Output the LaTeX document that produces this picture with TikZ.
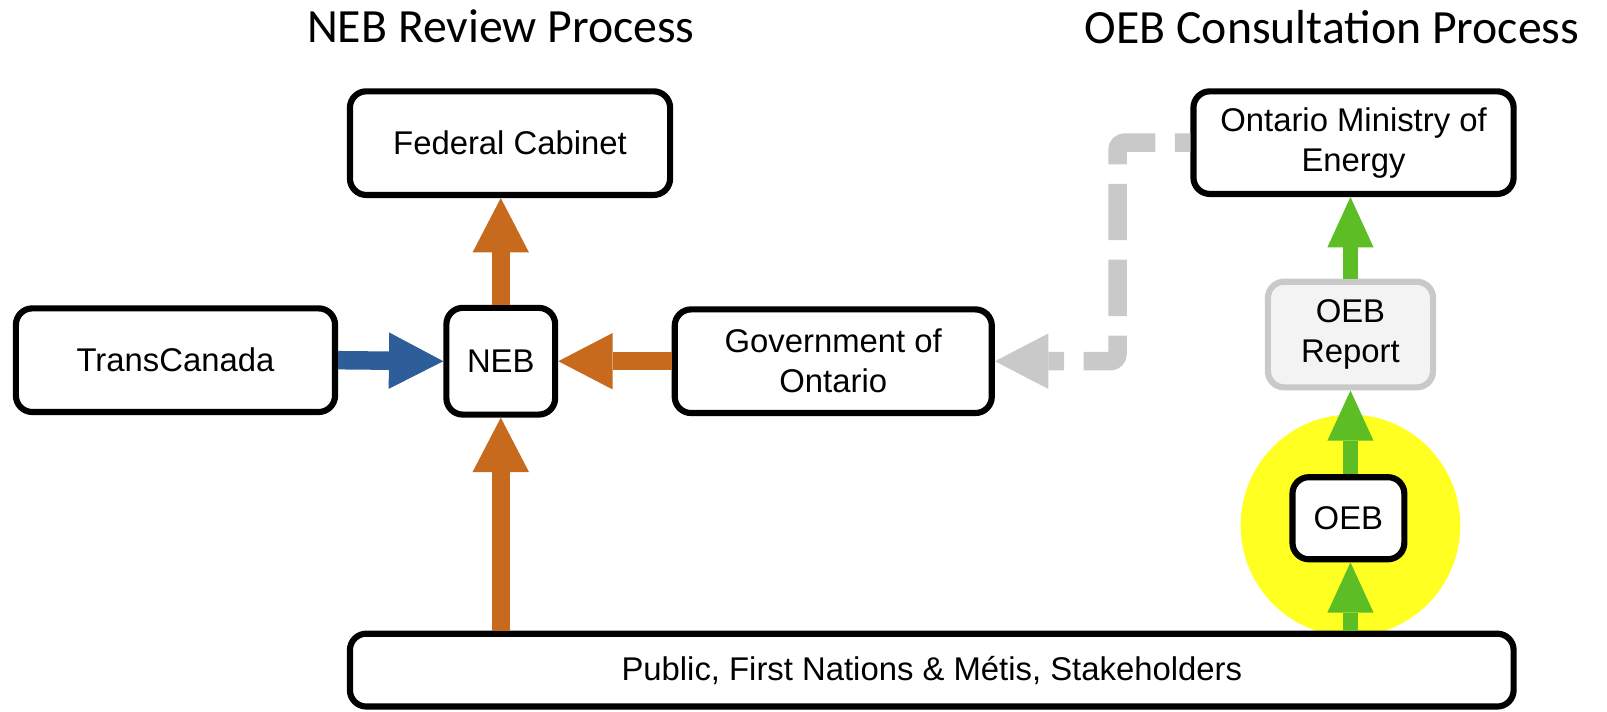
\documentclass[tikz,border=0pt]{standalone}
\usepackage{fontspec}
\setmainfont{Liberation Sans}
\newfontfamily\titlefont{Carlito}
\usetikzlibrary{arrows.meta}
\definecolor{orng}{HTML}{C86A1E}
\definecolor{blu}{HTML}{2E5E99}
\definecolor{grn}{HTML}{5CBE24}
\definecolor{lgray}{HTML}{C9C9C9}
\definecolor{rfill}{HTML}{F3F3F3}
\definecolor{ylw}{HTML}{FFFF22}
\begin{document}
\begin{tikzpicture}[x=1pt,y=-1pt,
  box/.style={draw=black, line width=6pt, rounded corners=16pt, fill=white,
    align=center, inner sep=0pt, font=\fontsize{32}{39}\selectfont},
  graybox/.style={box, draw=lgray, fill=rfill},
  title/.style={font=\titlefont\fontsize{46.5}{52}\selectfont, inner sep=0pt},
  fat/.style={line width=18pt, -{Triangle[width=55pt,length=53pt,line width=0pt]}},
  thin/.style={line width=14pt, grn, -{Triangle[width=45pt,length=49pt,line width=0pt]}},
  dashy/.style={line width=18pt, lgray, dash pattern=on 55pt off 19pt, dash phase=40pt,
    rounded corners=7pt, -{Triangle[width=54pt,length=52pt,line width=0pt]}}]
\useasboundingbox (0,0) rectangle (1566,693);

\node[title] (t1) at (488,26) {NEB Review Process};
\node[title] (t2) at (1298,26) {OEB Consultation Process};

\fill[ylw] (1316,512) ellipse [x radius=107pt, y radius=108pt];

\node[box, minimum width=312pt, minimum height=101pt] (fed) at (497,139.5) {Federal Cabinet};
\node[box, minimum width=311pt, minimum height=101pt] (tc) at (171,351) {TransCanada};
\node[box, minimum width=106pt, minimum height=104pt] (neb) at (488,352) {NEB};
\node[box, minimum width=309pt, minimum height=101pt] (gov) at (812,352) {Government of\\Ontario};
\node[box, minimum width=312pt, minimum height=100pt] (min) at (1319,139) {Ontario Ministry of\\Energy};
\node[graybox, minimum width=161pt, minimum height=103pt] (rep) at (1316,326) {OEB\\Report};
\node[box, minimum width=109pt, minimum height=80pt] (oeb) at (1314,505) {OEB};
\node[box, minimum width=1134pt, minimum height=71pt] (pub) at (908,653) {Public, First Nations \& Métis, Stakeholders};

\coordinate (bend) at (1089,0);

\draw[fat, orng] (neb.north) -- (neb.north |- fed.south);
\draw[fat, blu] (tc.east) -- (neb.west);
\draw[fat, orng] (gov.west) -- (neb.east);
\draw[fat, orng] (neb.south |- pub.north) -- (neb.south);
\draw[dashy] (min.west) -| (bend |- gov.east) -- (gov.east);
\draw[thin] (rep.north) -- (rep.north |- min.south);
\draw[thin] (oeb.north -| rep.south) -- (rep.south);
\draw[thin] (rep.south |- pub.north) -- (rep.south |- oeb.south);
\end{tikzpicture}
\end{document}
